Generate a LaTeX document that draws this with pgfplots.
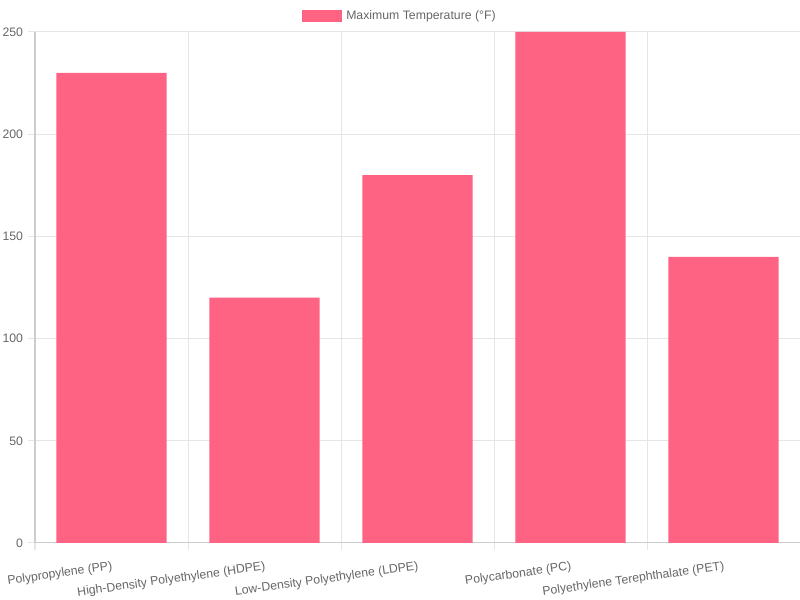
\documentclass[border=0pt]{standalone}
\usepackage{pgfplots}
\pgfplotsset{compat=1.18}
\usepackage{fontspec}
\setmainfont{Liberation Sans}
\definecolor{barpink}{RGB}{255,99,132}
\definecolor{txtgray}{RGB}{102,102,102}
\definecolor{gridgray}{RGB}{229,229,229}
\definecolor{axisgray}{RGB}{205,205,205}
\begin{document}
\begin{tikzpicture}
\useasboundingbox (0,0) rectangle (600pt,450pt);
\begin{axis}[
  at={(26.25pt,42.75pt)}, anchor=south west,
  scale only axis,
  width=573.75pt, height=383.25pt,
  xmin=-0.5, xmax=4.5, ymin=0, ymax=250,
  ytick={0,50,...,250},
  xtick={0,1,2,3,4},
  xticklabels={Polypropylene (PP),High-Density Polyethylene (HDPE),Low-Density Polyethylene (LDPE),Polycarbonate (PC),Polyethylene Terephthalate (PET)},
  minor xtick={-0.5,0.5,1.5,2.5,3.5,4.5},
  xminorgrids=true, ymajorgrids=true,
  grid style={gridgray, line width=0.75pt},
  minor grid style={gridgray, line width=0.75pt},
  axis line style={axisgray, line width=0.75pt},
  axis x line*=bottom, axis y line*=left,
  tick style={gridgray, line width=0.75pt},
  major x tick style={draw=none},
  tick align=outside,
  major tick length=5.25pt, minor tick length=5.25pt,
  xticklabel style={font=\fontsize{9.2pt}{10pt}\selectfont, text=txtgray, rotate=8, anchor=north east, inner sep=0pt, yshift=-8pt, xshift=-1pt},
  yticklabel style={font=\fontsize{9.2pt}{10pt}\selectfont, text=txtgray, inner sep=0pt, xshift=-3.5pt},
  /pgf/number format/assume math mode=true,
  ybar, bar width=0.72,
  legend style={at={(axis description cs:0.4771,1.0313)}, anchor=center, draw=none, fill=none,
    font=\fontsize{9.2pt}{10pt}\selectfont, text=txtgray, inner sep=0pt},
  legend image code/.code={\fill[barpink] (0pt,-4.5pt) rectangle (30pt,4.5pt);},
  clip=false,
]
\addplot[fill=barpink, draw=none] coordinates {(0,230) (1,120) (2,180) (3,250) (4,140)};
\addlegendentry{\hspace{1.5pt}Maximum Temperature (°F)}
\end{axis}
\end{tikzpicture}
\end{document}
